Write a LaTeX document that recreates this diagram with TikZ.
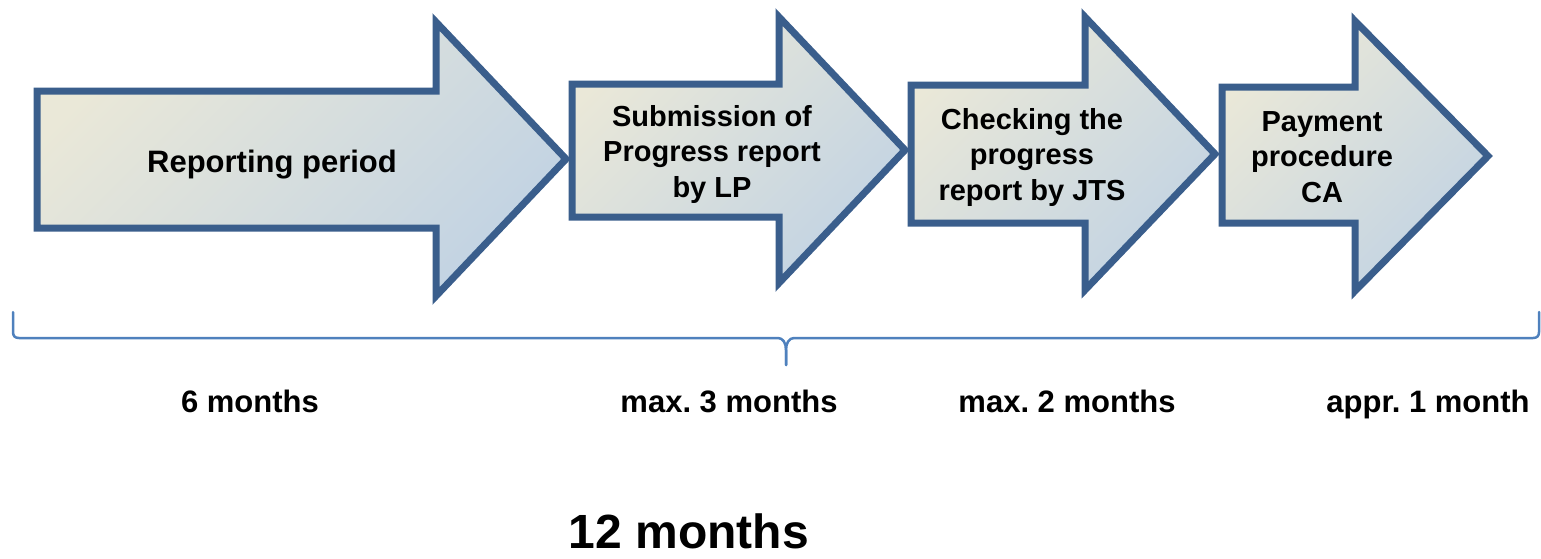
\documentclass[tikz,border=0pt]{standalone}
\usepackage{fontspec}
\setmainfont{Liberation Sans}
\usetikzlibrary{positioning}
\definecolor{stageedge}{RGB}{58,94,140}
\definecolor{stagelight}{RGB}{234,232,216}
\definecolor{stagedark}{RGB}{194,211,227}
\definecolor{bracecol}{RGB}{79,129,189}
\frenchspacing

\begin{document}
\begin{tikzpicture}[x=1pt, y=-1pt,
  stage/.style={draw=stageedge, line width=7pt, top color=stagelight, bottom color=stagedark, shading angle=45},
  stagetext/.style={font=\fontsize{29}{35.5}\selectfont\bfseries, align=center},
  span/.style={font=\fontsize{31}{37}\selectfont\bfseries, anchor=base}]
  \useasboundingbox (0,0) rectangle (1541,558);

  % Reporting period
  \path[stage] (37,91) -- (436,91) -- (436,22) -- (566,159) -- (436,296) -- (436,228) -- (37,228) -- cycle;
  \node[stagetext, font=\fontsize{31}{37}\selectfont\bfseries, anchor=base] (rep) at (272,172) {Reporting period};

  % Submission by LP
  \path[stage] (572,84) -- (779,84) -- (779,17) -- (905,150) -- (779,283) -- (779,217) -- (572,217) -- cycle;
  \node[stagetext] (sub) at (712,154) {Submission of\\Progress report\\by LP};

  % Checking by JTS
  \path[stage] (911,85) -- (1085,85) -- (1085,17) -- (1215,154) -- (1085,290) -- (1085,223) -- (911,223) -- cycle;
  \node[stagetext] (chk) at (1032,157) {Checking the\\progress\\report by JTS};

  % Payment CA
  \path[stage] (1222,87) -- (1355,87) -- (1355,21) -- (1488,156) -- (1355,291) -- (1355,223) -- (1222,223) -- cycle;
  \node[stagetext] (pay) at (1322,157) {Payment\\procedure\\CA};

  % brace under the stages
  \draw[bracecol, line width=2.5pt, line cap=round] (13,312) -- (13,332) .. controls (13,336) and (15,338) .. (19,338)
    -- (778,338) .. controls (783,338) and (786,343) .. (786,350) -- (786,365);
  \draw[bracecol, line width=2.5pt, line cap=round] (786,365) -- (786,350) .. controls (786,343) and (789,338) .. (794,338)
    -- (1533,338) .. controls (1537,338) and (1539,336) .. (1539,332) -- (1539,312);

  % durations
  \node[span] (six) at (250,412) {6 months};
  \node[span] (three) at (729,412) {max. 3 months};
  \node[span] (two) at (1067,412) {max. 2 months};
  \node[span] (one) at (1428,412) {appr. 1 month};
  \node[font=\fontsize{48}{54}\selectfont\bfseries, anchor=base, inner sep=0pt, text depth=0pt] (total) at (689,548) {12 months};
\end{tikzpicture}
\end{document}
